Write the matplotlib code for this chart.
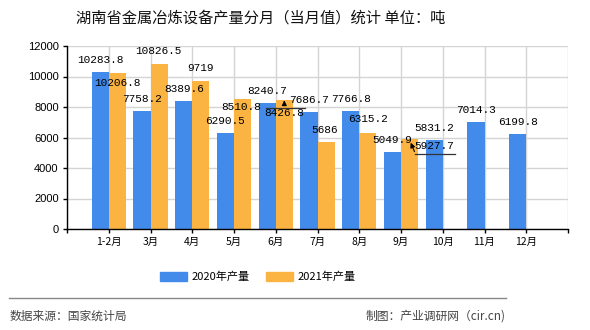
import matplotlib.pyplot as plt
import numpy as np
from matplotlib.lines import Line2D
from matplotlib.patches import Patch

plt.rcParams['font.family'] = ['Noto Sans CJK SC', 'DejaVu Sans']

# data
months = ['1-2月', '3月', '4月', '5月', '6月', '7月', '8月', '9月', '10月', '11月', '12月']
y2020 = [10283.8, 7758.2, 8389.6, 6290.5, 8240.7, 7686.7, 7766.8, 5049.9, 5831.2, 7014.3, 6199.8]
y2021 = [10206.8, 10826.5, 9719, 8510.8, 8426.8, 5686, 6315.2, 5927.7]
labels2021 = ['10206.8', '10826.5', '9719', '8510.8', '8426.8', '5686', '6315.2', '5927.7']
labels2020 = ['10283.8', '7758.2', '8389.6', '6290.5', '8240.7', '7686.7', '7766.8', '5049.9', '5831.2', '7014.3', '6199.8']

blue = '#428bea'
orange = '#fbb341'

fig = plt.figure(figsize=(5.9, 3.3), dpi=100)
ax = fig.add_axes([67 / 590, 1 - 229 / 330, 501 / 590, 183 / 330])

x = np.arange(1, len(months) + 1)
w = 0.41
ax.bar(x - w / 2, y2020, width=w, color=blue, zorder=2)
ax.bar(x[:len(y2021)] + w / 2, y2021, width=w, color=orange, zorder=2)

ax.set_xlim(0, 12)
ax.set_ylim(0, 12000)
ax.set_yticks(range(0, 12001, 2000))
ax.set_xticks(range(0, 13))
ax.set_xticklabels([''] + months + [''])
ax.grid(True, color='#d4d4d4', lw=1, zorder=0)
for s in ['top', 'right']:
    ax.spines[s].set_visible(False)
ax.spines['left'].set_linewidth(1)
ax.spines['bottom'].set_linewidth(1)
ax.tick_params(direction='out', length=3, width=1, labelsize=7.5, pad=3)
for t in ax.get_yticklabels():
    t.set_family(['Liberation Sans', 'DejaVu Sans'])
    t.set_fontsize(8)

# value labels (pixel offsets from bar top; 1 px = 0.72 pt)
px = 0.72
mono = dict(family=['Liberation Mono', 'DejaVu Sans Mono'], fontsize=8, ha='center', va='center', zorder=4)
for i, v in enumerate(y2020):
    ax.annotate(labels2020[i], (x[i] - w / 2, v), xytext=(0, 12 * px), textcoords='offset points', **mono)

off2021 = [(0, -9.5), (-1, 12.7), (0, 12.7), (-1, -8), (0, -13), (-1.5, 12.7), (0, 14), (25, -7)]
for i, v in enumerate(y2021):
    dx, dy = off2021[i]
    ax.annotate(labels2021[i], (x[i] + w / 2, v), xytext=(dx * px, dy * px), textcoords='offset points', **mono)

# leader lines for the crowded labels
ax.annotate('', xy=(x[4] + w / 2, y2021[4]), xytext=(0, -5 * px), textcoords='offset points',
            arrowprops=dict(arrowstyle='-|>', color='black', lw=0.8, mutation_scale=7), zorder=5)
ax.plot([x[4] + w / 2 - 0.45, x[4] + w / 2 + 0.5], [y2021[4] - 500, y2021[4] - 500], color='#333333', lw=0.9, zorder=5)
ax.annotate('', xy=(x[7] + w / 2, y2021[7] - 100), xytext=(6 * px, -14 * px), textcoords='offset points',
            arrowprops=dict(arrowstyle='-|>', color='black', lw=0.8, mutation_scale=7), zorder=5)
ax.plot([x[7] + w / 2 + 0.13, x[7] + w / 2 + 1.1], [y2021[7] - 1000, y2021[7] - 1000], color='#333333', lw=0.9, zorder=5)

fig.text(261 / 590, 1 - 18 / 330, '湖南省金属冶炼设备产量分月（当月值）统计 单位：吨',
         ha='center', va='center', fontsize=11, color='#111111')

handles = [Patch(color=blue), Patch(color=orange)]
fig.legend(handles, ['2020年产量', '2021年产量'], loc='center', bbox_to_anchor=(258 / 590, 1 - 277 / 330),
           ncol=2, frameon=False, fontsize=8, handlelength=2.4, handleheight=0.8, columnspacing=1.5, handletextpad=0.4)

fig.add_artist(Line2D([9 / 590, 506 / 590], [1 - 298 / 330, 1 - 298 / 330], color='#888888', lw=1))
fig.text(10 / 590, 1 - 316 / 330, '数据来源：国家统计局', ha='left', va='center', fontsize=8.5, color='#444444')
fig.text(506 / 590, 1 - 316 / 330, '制图：产业调研网（cir.cn)', ha='right', va='center', fontsize=8.5, color='#444444')

fig.savefig('out.png', dpi=100)
